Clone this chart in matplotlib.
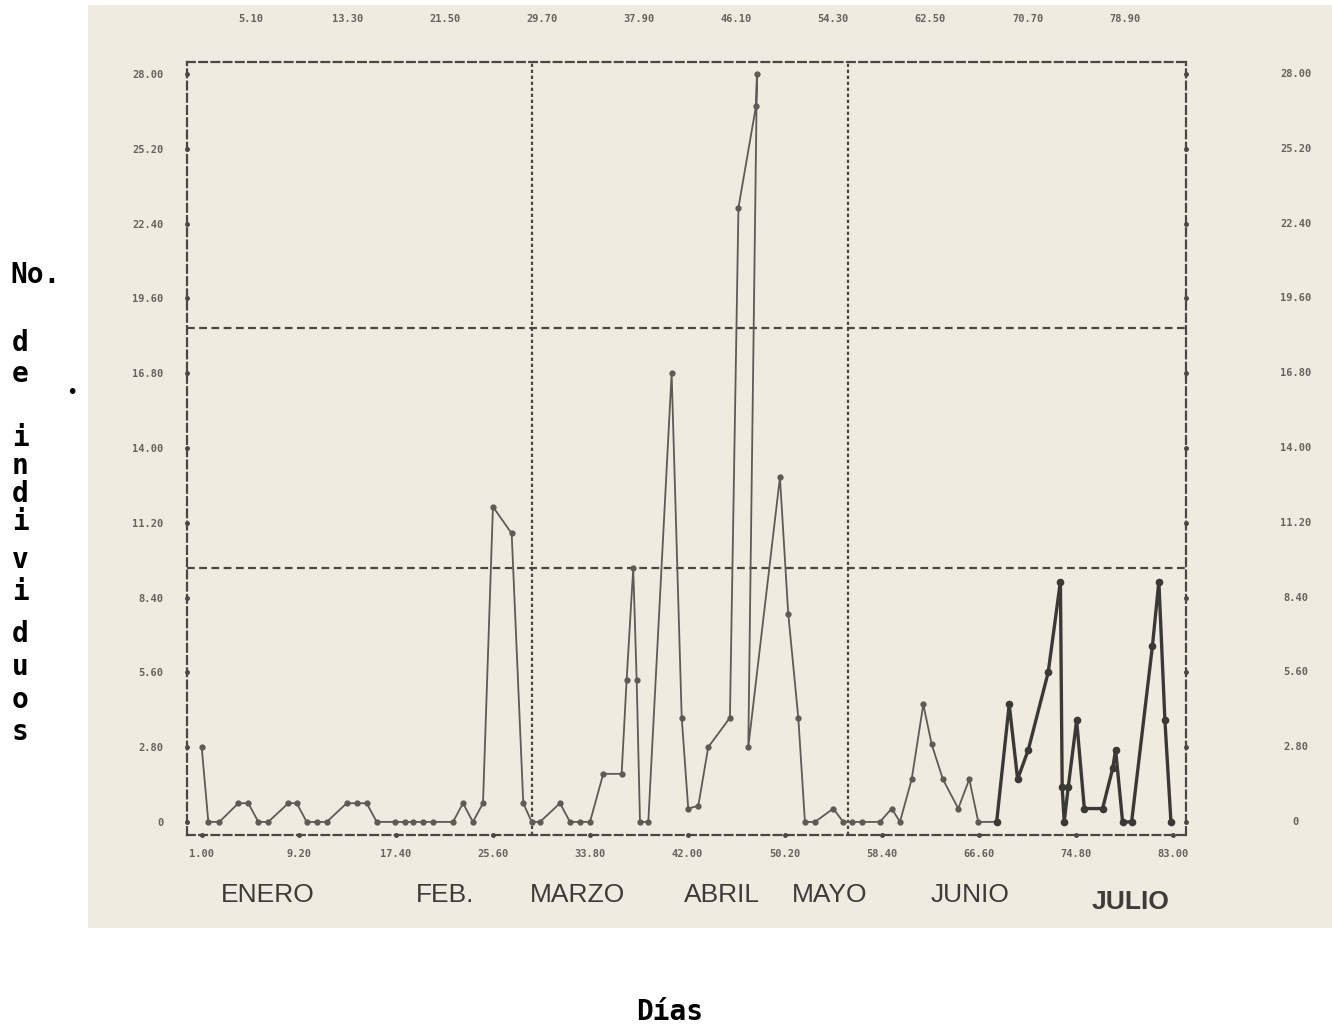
import matplotlib
matplotlib.use("Agg")
import matplotlib.pyplot as plt
from matplotlib.patches import Rectangle

# ---------------- data ----------------
dias = [1.00, 1.56, 2.49, 4.09, 4.93, 5.78, 6.62, 8.31, 9.02, 9.86,
        10.70, 11.55, 13.24, 14.08, 14.92, 15.77, 17.31, 18.16, 18.83, 19.68,
        20.52, 22.21, 23.05, 23.89, 24.74, 25.58, 27.16, 28.14, 28.85, 29.55,
        31.24, 32.08, 32.93, 33.77, 34.89, 36.44, 36.86, 37.42, 37.71, 37.99,
        38.69, 40.66, 41.51, 42.06, 42.91, 43.75, 45.58, 46.30, 47.78, 47.86,
        47.13, 49.80, 50.50, 51.35, 51.91, 52.76, 54.30, 55.14, 55.85, 56.70,
        58.24, 59.23, 59.93, 60.92, 61.90, 62.61, 63.55, 64.85, 65.78, 66.54,
        68.09]
individuos = [2.8, 0.0, 0.0, 0.7, 0.7, 0.0, 0.0, 0.7, 0.7, 0.0,
              0.0, 0.0, 0.7, 0.7, 0.7, 0.0, 0.0, 0.0, 0.0, 0.0,
              0.0, 0.0, 0.7, 0.0, 0.7, 11.8, 10.8, 0.7, 0.0, 0.0,
              0.7, 0.0, 0.0, 0.0, 1.8, 1.8, 5.3, 9.5, 5.3, 0.0,
              0.0, 16.8, 3.9, 0.5, 0.6, 2.8, 3.9, 23.0, 26.8, 28.0,
              2.8, 12.9, 7.8, 3.9, 0.0, 0.0, 0.5, 0.0, 0.0, 0.0,
              0.0, 0.5, 0.0, 1.6, 4.4, 2.9, 1.6, 0.5, 1.6, 0.0,
              0.0]
# last part (June-July), printed with a heavier line
dias_fin = [68.09, 69.15, 69.86, 70.76, 72.44, 73.47, 73.62, 73.79, 74.13, 74.84,
            75.49, 77.03, 77.88, 78.13, 78.72, 79.48, 81.24, 81.78, 82.29, 82.80]
individuos_fin = [0.0, 4.4, 1.6, 2.7, 5.6, 9.0, 1.3, 0.0, 1.3, 3.8,
                  0.5, 0.5, 2.0, 2.7, 0.0, 0.0, 6.6, 9.0, 3.8, 0.0]

y_ticks = [0, 2.8, 5.6, 8.4, 11.2, 14.0, 16.8, 19.6, 22.4, 25.2, 28.0]
y_labels = ["0", "2.80", "5.60", "8.40", "11.20", "14.00", "16.80",
            "19.60", "22.40", "25.20", "28.00"]
x_ticks = [1.0, 9.2, 17.4, 25.6, 33.8, 42.0, 50.2, 58.4, 66.6, 74.8, 83.0]
x_labels = ["1.00", "9.20", "17.40", "25.60", "33.80", "42.00", "50.20",
            "58.40", "66.60", "74.80", "83.00"]
x_ticks_top = [5.1, 13.3, 21.5, 29.7, 37.9, 46.1, 54.3, 62.5, 70.7, 78.9]
x_labels_top = ["5.10", "13.30", "21.50", "29.70", "37.90", "46.10",
                "54.30", "62.50", "70.70", "78.90"]
ref_h = [9.5, 18.5]
ref_v = [28.87, 55.53]
meses = ["ENERO", "FEB.", "MARZO", "ABRIL", "MAYO", "JUNIO", "JULIO"]
mes_x = [268, 445, 577, 722, 830, 970, 1130]
mes_y = [895, 895, 895, 895, 895, 895, 902]
ylabel_chars = ["d", "e", "i", "n", "d", "i", "v", "i", "d", "u", "o", "s"]
ylabel_ys = [343, 374, 438, 466, 494, 522, 560, 592, 634, 667, 700, 732]

# ---------------- figure ----------------
W, H = 1332, 1026
fig = plt.figure(figsize=(W / 100, H / 100), dpi=100)
fig.patch.set_facecolor("white")

def fx(px):
    return px / W

def fy(py):
    return 1 - py / H

paper = Rectangle((fx(88), fy(928)), fx(1332) - fx(88), fy(5) - fy(928),
                  transform=fig.transFigure, facecolor="#efebe1",
                  edgecolor="none", zorder=-10)
fig.patches.append(paper)

ax = fig.add_axes([fx(187), fy(835), fx(1186) - fx(187), fy(62) - fy(835)])
ax.set_facecolor("none")
ax.set_zorder(2)
ax.set_xlim(-0.24, 84.07)
ax.set_ylim(-0.49, 28.45)

dash = (0, (3.5, 2.0))
line_col = "#4a4844"
for s in ax.spines.values():
    s.set_linestyle(dash)
    s.set_color(line_col)
    s.set_linewidth(1.6)

for yv in ref_h:
    ax.axhline(yv, color=line_col, lw=1.6, ls=dash, zorder=1)
for xv in ref_v:
    ax.axvline(xv, color=line_col, lw=1.6, ls=(0, (1.5, 1.2)), zorder=1)

# tick marks drawn as dots on the frame
ax.plot([-0.24] * len(y_ticks), y_ticks, ls="none", marker="o", ms=2.5,
        color=line_col, clip_on=False)
ax.plot([84.07] * len(y_ticks), y_ticks, ls="none", marker="o", ms=2.5,
        color=line_col, clip_on=False)
ax.plot(x_ticks, [-0.49] * len(x_ticks), ls="none", marker="o", ms=2.5,
        color=line_col, clip_on=False)

tick_font = dict(family="DejaVu Sans Mono", weight="bold", size=7.5)
tick_col = "#66645f"

ax.set_yticks(y_ticks)
ax.set_yticklabels(y_labels, fontdict=tick_font, color=tick_col)
ax.set_xticks(x_ticks)
ax.set_xticklabels(x_labels, fontdict=tick_font, color=tick_col)
ax.tick_params(axis="y", length=0, pad=17)
ax.tick_params(axis="x", length=0, pad=10)

for yv, lab in zip(y_ticks, y_labels):
    ax.text(1.11, yv, lab, transform=ax.get_yaxis_transform(),
            ha="center", va="center", color=tick_col, **tick_font)

top = ax.secondary_xaxis("top")
top.set_xticks(x_ticks_top)
top.set_xticklabels(x_labels_top, fontdict=tick_font, color=tick_col)
top.tick_params(length=0, pad=27)
for s in top.spines.values():
    s.set_visible(False)

# data lines
ax.plot(dias, individuos, color="#5e5b56", lw=1.3, marker="o", ms=3.5,
        zorder=3, clip_on=False)
ax.plot(dias_fin, individuos_fin, color="#3b3935", lw=2.4, marker="o", ms=4.5,
        zorder=3, clip_on=False)

# month names
for m, x, y in zip(meses, mes_x, mes_y):
    fig.text(fx(x), fy(y), m, ha="center", va="center", fontsize=19,
             family="Liberation Sans",
             weight="bold" if m == "JULIO" else "normal", color="#3e3c39")

# y label stacked
lab_font = dict(family="DejaVu Sans Mono", weight="bold", size=20)
fig.text(fx(10), fy(275), "No.", ha="left", va="center", color="black",
         **lab_font)
for ch, y in zip(ylabel_chars, ylabel_ys):
    fig.text(fx(20), fy(y), ch, ha="center", va="center", color="black",
             **lab_font)
fig.text(fx(72), fy(393), "\u2022", ha="center", va="center", color="black",
         fontsize=14)

fig.text(fx(670), fy(1012), "Días", ha="center", va="center", color="black",
         **lab_font)

fig.savefig("out.png", dpi=100, facecolor=fig.get_facecolor())
